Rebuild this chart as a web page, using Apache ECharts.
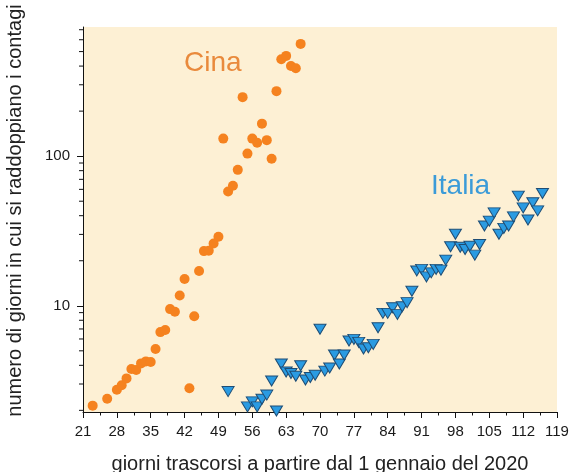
<!DOCTYPE html>
<html>
<head>
<meta charset="utf-8">
<script src="https://cdn.jsdelivr.net/npm/echarts@6/dist/echarts.min.js"></script>
<style>
html, body { margin: 0; padding: 0; background: #fff; }
#chart { width: 569px; height: 472px; }
</style>
</head>
<body>
<div id="chart"></div>
<script>
// giorni dal 1 gennaio 2020
var cinaGiorni = [23, 26, 28, 29, 30, 31, 32, 33, 34, 35, 36, 37, 38, 39, 40, 41, 42, 43, 44, 45, 46,
  47, 48, 49, 50, 51, 52, 53, 54, 55, 56, 57, 58, 59, 60, 61, 62, 63, 64, 65, 66]
var cinaValori = [2.15, 2.39, 2.75, 2.94, 3.27, 3.78, 3.72, 4.12, 4.25, 4.21, 5.14, 6.67, 6.88, 9.5, 9.12,
  11.7, 15.1, 2.81, 8.5, 17.1, 23.2, 23.3, 26.1, 28.9, 131, 58.1, 63.4, 81, 248, 104, 131, 123, 165, 128,
  96, 272, 445, 468, 401, 387, 563]

var italiaGiorni = [51, 55, 56, 57, 58, 59, 60, 61, 62, 63, 64, 65, 66, 67, 68, 69, 70, 71, 72, 73, 74,
  75, 76, 77, 78, 79, 80, 81, 82, 83, 84, 85, 86, 87, 88, 89, 90, 91, 92, 93, 94, 95, 96, 97, 98, 99,
  100, 101, 102, 103, 104, 105, 106, 107, 108, 109, 110, 111, 112, 113, 114, 115, 116]
var italiaValori = [2.67, 2.11, 2.28, 2.11, 2.37, 2.53, 3.14, 1.98, 4.08, 3.61, 3.53, 3.38, 3.97, 3.19,
  3.32, 3.43, 6.97, 3.66, 3.84, 4.69, 4.08, 4.69, 5.81, 5.96, 5.69, 5.14, 5.24, 5.52, 7.13, 8.9, 8.9,
  9.7, 8.76, 9.85, 10.5, 12.5, 17.1, 17.5, 15.6, 16.6, 17.5, 17.3, 20.2, 24.8, 30.1, 24.6, 23.8, 25.0,
  21.8, 25.7, 34.1, 36.8, 41.8, 30.1, 32.9, 34.1, 39.3, 54.1, 45.1, 37.4, 48.8, 43.1, 56.3]

// tacche secondarie dell'asse logaritmico
var yMinorTicks = [2, 3, 4, 5, 6, 7, 8, 9, 20, 30, 40, 50, 60, 70, 80, 90, 200, 300, 400, 500, 600, 700]

var fontFam = "'Liberation Sans', Arial, sans-serif"

function toPairs (xs, ys) {
  return xs.map(function (x, i) { return [x, ys[i]] })
}

var myChart = echarts.init(document.getElementById('chart'), null, { renderer: 'canvas' })
myChart.setOption({
  animation: false,
  backgroundColor: '#fff',
  grid: {
    left: 83,
    right: 12,
    top: 27,
    bottom: 60,
    outerBoundsMode: 'none',
    containLabel: false,
    show: true,
    backgroundColor: '#fdf0d4',
    borderWidth: 0
  },
  xAxis: {
    type: 'value',
    min: 21,
    max: 119,
    interval: 7,
    name: 'giorni trascorsi a partire dal 1 gennaio del 2020',
    nameLocation: 'middle',
    nameGap: 42,
    nameTextStyle: { fontFamily: fontFam, fontSize: 20, color: '#222' },
    axisLine: { lineStyle: { color: '#111', width: 1 } },
    axisTick: { length: 6, lineStyle: { color: '#111' } },
    minorTick: { show: true, splitNumber: 2, length: 3.5, lineStyle: { color: '#111' } },
    axisLabel: { fontFamily: fontFam, fontSize: 15, color: '#1a1a1a', margin: 12 },
    splitLine: { show: false }
  },
  yAxis: {
    type: 'log',
    min: 1.95,
    max: 730,
    name: 'numero di giorni in cui si raddoppiano i contagi',
    nameLocation: 'middle',
    nameGap: 58,
    nameTextStyle: { fontFamily: fontFam, fontSize: 20, color: '#222', padding: [0, 0, 0, 18] },
    axisLine: { show: true, lineStyle: { color: '#111', width: 1 } },
    axisTick: { length: 6, lineStyle: { color: '#111' } },
    axisLabel: {
      fontFamily: fontFam,
      fontSize: 15,
      color: '#1a1a1a',
      margin: 13,
      showMinLabel: false,
      showMaxLabel: false
    },
    splitLine: { show: false }
  },
  graphic: [
    {
      type: 'text',
      left: 184,
      top: 49,
      style: { text: 'Cina', fontFamily: fontFam, fontSize: 28, fill: '#e98a3c' }
    },
    {
      type: 'text',
      left: 431,
      top: 172,
      style: { text: 'Italia', fontFamily: fontFam, fontSize: 28, fill: '#3b9bd8' }
    }
  ],
  series: [
    {
      name: 'minorTicks',
      type: 'custom',
      silent: true,
      clip: false,
      data: yMinorTicks.map(function (v) { return [21, v] }),
      renderItem: function (params, api) {
        var p = api.coord([21, api.value(1)])
        return {
          type: 'line',
          shape: { x1: p[0] - 4, y1: p[1], x2: p[0], y2: p[1] },
          style: { stroke: '#111', lineWidth: 1 }
        }
      }
    },
    {
      name: 'Cina',
      type: 'scatter',
      symbol: 'circle',
      symbolSize: 10,
      itemStyle: { color: '#f5821f', opacity: 1 },
      data: toPairs(cinaGiorni, cinaValori)
    },
    {
      name: 'Italia',
      type: 'scatter',
      symbol: 'triangle',
      symbolRotate: 180,
      symbolSize: [12, 10],
      itemStyle: { color: '#2a9be2', borderColor: '#1e4d75', borderWidth: 1, opacity: 1 },
      data: toPairs(italiaGiorni, italiaValori)
    }
  ]
})
</script>
</body>
</html>
